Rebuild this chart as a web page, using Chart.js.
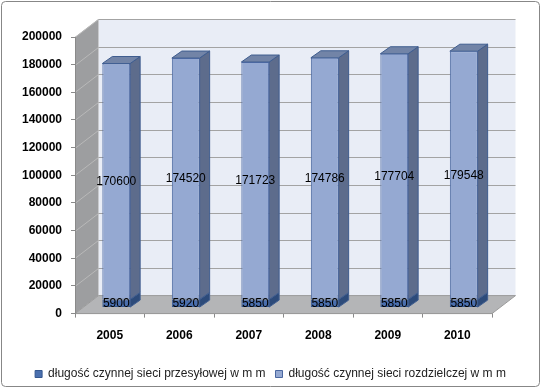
<!DOCTYPE html>
<html>
<head>
<meta charset="utf-8">
<script src="https://cdn.jsdelivr.net/npm/chart.js@4.4.0/dist/chart.umd.min.js"></script>
<style>
  html, body { margin: 0; padding: 0; background: #fff; }
</style>
</head>
<body>
<canvas id="chart" width="541" height="388"></canvas>
<script>
const years = ["2005", "2006", "2007", "2008", "2009", "2010"];
const przesylowa = [5900, 5920, 5850, 5850, 5850, 5850];
const rozdzielcza = [170600, 174520, 171723, 174786, 177704, 179548];
const seriesNames = [
  "długość czynnej sieci przesyłowej w m m",
  "długość czynnej sieci rozdzielczej w m m",
];

// oblique offsets of the fake 3d box
const depth = { x: 23.5, y: -18 };
const barFront = { x: 6.5, y: -6 };
const barBack = { x: 16.5, y: -13 };

const sideColors = ["#2d4b7a", "#5d6c8c"];
const topColor = "#7284a7";

function poly(ctx, pts, fill, stroke) {
  ctx.beginPath();
  ctx.moveTo(pts[0][0], pts[0][1]);
  for (let i = 1; i < pts.length; i++) ctx.lineTo(pts[i][0], pts[i][1]);
  ctx.closePath();
  if (fill) { ctx.fillStyle = fill; ctx.fill(); }
  if (stroke) { ctx.strokeStyle = stroke; ctx.lineWidth = 1; ctx.stroke(); }
}

const box3d = {
  id: "box3d",
  beforeDraw(chart) {
    const ctx = chart.ctx;
    const a = chart.chartArea;
    const yScale = chart.scales.y;
    ctx.save();
    ctx.fillStyle = "#fff";
    ctx.fillRect(0, 0, chart.width, chart.height);
    ctx.beginPath();
    ctx.roundRect(1.5, 1.5, chart.width - 3, chart.height - 3, 4);
    ctx.strokeStyle = "#878787";
    ctx.lineWidth = 1;
    ctx.stroke();

    // back wall
    ctx.fillStyle = "#e9edf6";
    ctx.fillRect(a.left + depth.x, a.top + depth.y, a.width, a.height);
    // left wall
    poly(ctx, [[a.left, a.top], [a.left + depth.x, a.top + depth.y],
      [a.left + depth.x, a.bottom + depth.y], [a.left, a.bottom]], "#9d9ea0");
    // floor
    poly(ctx, [[a.left, a.bottom], [a.right, a.bottom],
      [a.right + depth.x, a.bottom + depth.y], [a.left + depth.x, a.bottom + depth.y]], "#b4b5b7", "#9a9a9a");

    // gridlines on walls
    yScale.ticks.forEach((t) => {
      if (t.value === 0) return;
      const py = Math.round(yScale.getPixelForValue(t.value)) + 0.5;
      ctx.beginPath();
      ctx.moveTo(a.left, py);
      ctx.lineTo(a.left + depth.x, py + depth.y);
      ctx.strokeStyle = "#b9b9b9";
      ctx.stroke();
      ctx.beginPath();
      ctx.moveTo(a.left + depth.x, py + depth.y);
      ctx.lineTo(a.right + depth.x, py + depth.y);
      ctx.strokeStyle = "#a3a3a3";
      ctx.stroke();
    });
    ctx.restore();
  },
  beforeDatasetsDraw(chart) {
    const ctx = chart.ctx;
    const n = chart.data.datasets.length;
    ctx.save();
    for (let i = 0; i < n; i++) {
      chart.getDatasetMeta(i).data.forEach((bar) => {
        const p = bar.getProps(["x", "y", "base", "width"], true);
        const l = p.x - p.width / 2;
        const r = p.x + p.width / 2;
        poly(ctx, [[r + barFront.x, p.y + barFront.y], [r + barBack.x, p.y + barBack.y],
          [r + barBack.x, p.base + barBack.y], [r + barFront.x, p.base + barFront.y]],
          sideColors[i], "#3f5d8f");
        if (i === n - 1) {
          poly(ctx, [[l + barFront.x, p.y + barFront.y], [r + barFront.x, p.y + barFront.y],
            [r + barBack.x, p.y + barBack.y], [l + barBack.x, p.y + barBack.y]],
            topColor, "#3f5d8f");
        }
      });
    }
    ctx.restore();
    ctx.save();
    ctx.translate(barFront.x, barFront.y);
  },
  afterDatasetsDraw(chart) {
    const ctx = chart.ctx;
    ctx.restore();
    ctx.save();
    ctx.font = "12px 'Liberation Sans'";
    ctx.fillStyle = "#000";
    ctx.textAlign = "center";
    ctx.textBaseline = "middle";
    chart.data.datasets.forEach((ds, i) => {
      chart.getDatasetMeta(i).data.forEach((bar, j) => {
        const p = bar.getProps(["x", "y", "base"], true);
        ctx.fillText(String(ds.data[j]), p.x + barFront.x, (p.y + p.base) / 2 + barFront.y);
      });
    });
    ctx.restore();
  },
};

Chart.defaults.font.family = "'Liberation Sans', Arial, sans-serif";

new Chart(document.getElementById("chart"), {
  type: "bar",
  data: {
    labels: years,
    datasets: [
      {
        label: seriesNames[0],
        data: przesylowa,
        backgroundColor: "#4a6fae",
        borderColor: "#34578f",
        borderWidth: 1,
        borderSkipped: false,
      },
      {
        label: seriesNames[1],
        data: rozdzielcza,
        backgroundColor: "#95a9d2",
        borderColor: "#4a67a0",
        borderWidth: 1,
        borderSkipped: false,
      },
    ],
  },
  options: {
    responsive: false,
    animation: false,
    layout: { padding: { left: 20, right: 20, top: 37, bottom: -2 } },
    datasets: { bar: { categoryPercentage: 1, barPercentage: 0.4 } },
    scales: {
      x: {
        stacked: true,
        afterFit: (scale) => { scale.height += 4; },
        grid: { drawOnChartArea: false, offset: true, tickLength: 4, color: "#8a8a8a" },
        border: { color: "#9a9a9a" },
        ticks: { padding: 11, color: "#000", font: { size: 12, weight: "bold" } },
      },
      y: {
        stacked: true,
        min: 0,
        max: 200000,
        afterFit: (scale) => { scale.width = 55; },
        grid: { drawOnChartArea: false, tickLength: 4, color: "#8a8a8a" },
        border: { color: "#8a8a8a" },
        ticks: {
          stepSize: 20000,
          padding: 9,
          color: "#000",
          font: { size: 12, weight: "bold" },
          callback: (v) => String(v),
        },
      },
      // empty axis that only keeps room on the right for the depth of the box
      spacer: {
        position: "right",
        afterFit: (scale) => { scale.width = 29; },
        grid: { display: false },
        border: { display: false },
        ticks: { display: false },
      },
    },
    plugins: {
      legend: {
        position: "bottom",
        labels: { boxWidth: 7, boxHeight: 7, padding: 10, color: "#222", font: { size: 12 } },
      },
      tooltip: { enabled: false },
    },
  },
  plugins: [box3d],
});
</script>
</body>
</html>
